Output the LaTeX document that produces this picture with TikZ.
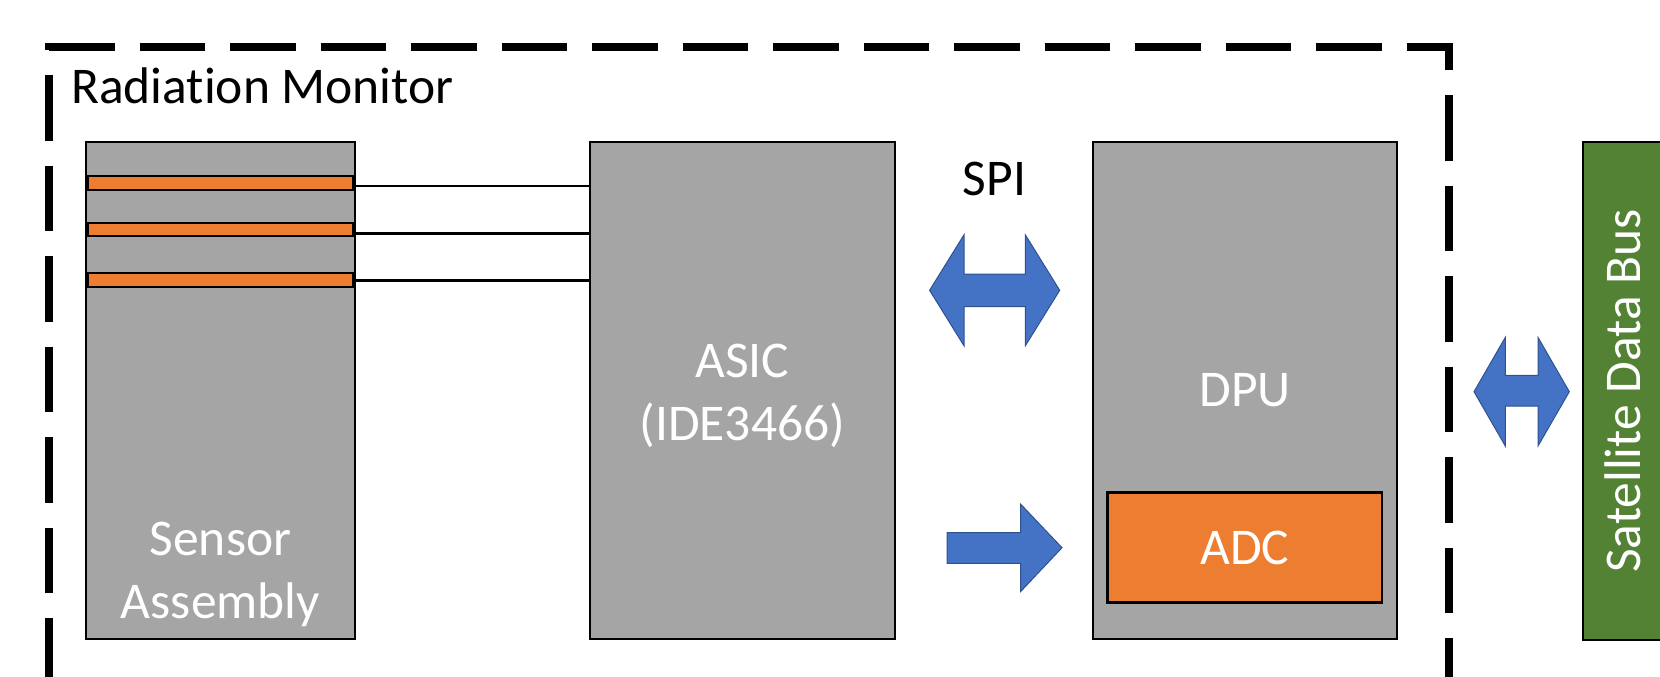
\documentclass[tikz,border=0pt]{standalone}
\usepackage{fontspec}
\setmainfont[Ligatures=NoCommon]{Carlito}

\definecolor{boxgray}{HTML}{A5A5A5}
\definecolor{stripor}{HTML}{ED7D31}
\definecolor{busgreen}{HTML}{548235}
\definecolor{arrowblue}{HTML}{4472C4}
\definecolor{arrowedge}{HTML}{2F528F}

\newcommand{\labelfont}{\fontsize{51.5}{63}\selectfont}

\tikzset{
    block/.style={draw=black, line width=2pt, fill=boxgray, inner sep=0pt, outer sep=0pt,
        text=white, font=\labelfont, align=center},
    boxtext/.style={text=white, font=\labelfont, align=center, inner sep=0pt},
    strip/.style={draw=black, line width=2pt, fill=stripor, inner sep=0pt, outer sep=0pt,
        minimum width=265pt, minimum height=14pt},
    wire/.style={line width=2.5pt},
    bigarrow/.style={fill=arrowblue, draw=arrowedge, line width=1pt},
    frame/.style={line width=8pt, dash pattern=on 65.5pt off 25pt},
}

\begin{document}
\begin{tikzpicture}[x=1pt, y=-1pt]
    \clip (0,0) rectangle (1660,677);
    % dashed outline of the monitor
    \draw[frame] (49,47) -- (1449,47) -- (1449,720);
    \draw[frame, dash phase=58.5pt] (49,43) -- (49,720);
    \node[anchor=base west, inner sep=0pt, font=\labelfont] (title) at (71,103.3) {Radiation Monitor};

    \node[block, minimum width=269pt, minimum height=497pt] (sensor) at (220.5,390.5) {};
    \node[strip] (strip1) at (220.5,183) {};
    \node[strip, minimum height=13.5pt] (strip2) at (220.5,229.3) {};
    \node[strip] (strip3) at (220.5,280) {};
    \node[boxtext] (sensorlabel) at (220.5,574) {Sensor\\Assembly};

    \node[block, minimum width=304.5pt, minimum height=497pt] (asic) at (742.25,390.5) {};
    \node[boxtext] (asiclabel) at (742.25,395.5) {ASIC\\(IDE3466)};
    \node[block, minimum width=304pt, minimum height=497pt] (dpu) at (1245,390.5) {DPU};
    \node[block, fill=stripor, line width=2.5pt, minimum width=274.7pt, minimum height=109.6pt] (adc) at (1244.7,547.5) {ADC};
    \node[block, fill=busgreen, rotate=90, minimum width=498pt, minimum height=80pt] (bus) at (1623,391) {Satellite Data Bus};

    \node[anchor=base, inner sep=0pt, font=\labelfont] (spi) at (994.4,195.7) {SPI};

    % sensor strips to the ASIC
    \coordinate (w1) at ([yshift=-3pt]strip1.east);
    \coordinate (w2) at ([yshift=-4.2pt]strip2.east);
    \coordinate (w3) at ([yshift=-0.7pt]strip3.east);
    \draw[wire] (w1) -- (w1 -| asic.west);
    \draw[wire] (w2) -- (w2 -| asic.west);
    \draw[wire] (w3) -- (w3 -| asic.west);

    % block arrows
    \draw[bigarrow] (929.6,290.3) -- (964,234.8) -- (964,274) -- (1025.3,274) -- (1025.3,234.8)
        -- (1059.7,290.3) -- (1025.3,345.8) -- (1025.3,306.6) -- (964,306.6) -- (964,345.8) -- cycle;
    \draw[bigarrow] (947,532.7) -- (1020.5,532.7) -- (1020.5,504) -- (1062,547.7)
        -- (1020.5,591.7) -- (1020.5,563.3) -- (947,563.3) -- cycle;
    \draw[bigarrow] (1474,391.7) -- (1505.3,337.4) -- (1505.3,375.3) -- (1538,375.3) -- (1538,337.4)
        -- (1569.3,391.7) -- (1538,446) -- (1538,406.2) -- (1505.3,406.2) -- (1505.3,446) -- cycle;
\end{tikzpicture}
\end{document}
